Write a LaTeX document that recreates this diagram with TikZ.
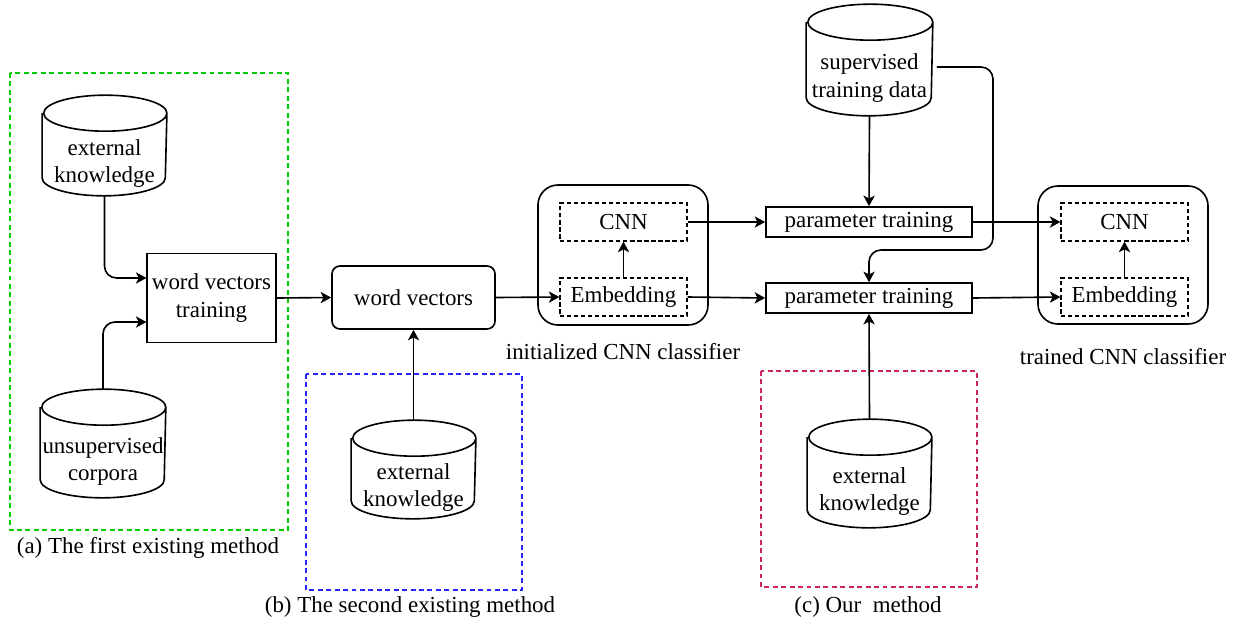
\documentclass[tikz,border=0pt]{standalone}
\usepackage{fontspec}
\setmainfont{Liberation Serif}
\usepackage{xcolor}
\definecolor{colorFirst}{HTML}{00CC00}
\definecolor{colorSecond}{HTML}{2626FF}
\definecolor{colorOurs}{HTML}{CC2266}
\usepackage{tikz}
\usetikzlibrary{arrows.meta, positioning}
\tikzset{
  store/.style={rectangle, align=center, inner sep=0pt, minimum width=2*#1,
    append after command={([yshift=0.45cm]\tikzlastnode.north west) -- ([yshift=0.45cm]\tikzlastnode.south west)
      arc[start angle=180, end angle=360, x radius=#1, y radius=0.45cm] -- ([yshift=0.45cm]\tikzlastnode.north east)
      arc[start angle=0, end angle=360, x radius=#1, y radius=0.45cm]}},
  box/.style={rectangle, draw, align=center},
  layer/.style={rectangle, draw, dash pattern=on 3pt off 2pt, line width=0.85pt, minimum width=3.175cm, minimum height=0.95cm},
  method/.style={dash pattern=on 3.5pt off 2.5pt, line width=1pt}
}

\begin{document}
\begin{tikzpicture}[x=0.025cm, y=-0.025cm, >={Stealth[length=7.5pt, width=8pt, inset=2pt]}, line width=1.15pt,
  every node/.style={font=\fontsize{16.3}{19.5}\selectfont}]
\useasboundingbox (0,0) rectangle (1240,626);
\draw (104.5,163.5) node[store=1.54cm, minimum height=1.575cm] (ek1) {external\\knowledge};
\draw (103,461.5) node[store=1.55cm, minimum height=1.775cm] (uc) {unsupervised\\corpora};
\node[box, minimum width=3.125cm, minimum height=2.225cm] (wvt) at (211.5,298) {word vectors\\training};
\node[box, rounded corners=0.2cm, minimum width=4.075cm, minimum height=1.575cm] (wv) at (413.5,297.5) {word vectors};
\draw (413.5,487.5) node[store=1.54cm, minimum height=1.525cm] (ek2) {external\\knowledge};
\node[box, rounded corners=0.5cm, minimum width=4.25cm, minimum height=3.5cm] (cls1) at (623,255) {};
\node[layer] (cnn1) at (623.5,222) {CNN};
\node[layer] (emb1) at (623.5,297) {Embedding};
\node[box, minimum width=5.15cm, minimum height=0.75cm] (pt1) at (869,222) {parameter training};
\node[box, minimum width=5.15cm, minimum height=0.75cm] (pt2) at (869,298) {parameter training};
\draw (869.5,78) node[store=1.5625cm, minimum height=1.85cm] (std) {supervised\\training data};
\node[box, rounded corners=0.5cm, minimum width=4.25cm, minimum height=3.45cm] (cls2) at (1123,255) {};
\node[layer] (cnn2) at (1124.5,222) {CNN};
\node[layer] (emb2) at (1124.5,297) {Embedding};
\draw (869.5,491.5) node[store=1.54cm, minimum height=1.775cm] (ek3) {external\\knowledge};
\node (capi) at (623,352) {initialized CNN classifier};
\node (capt) at (1123,357) {trained CNN classifier};
\node (capa) at (148,548) {(a) The first existing method};
\node (capb) at (410,607) {(b) The second existing method};
\node (capc) at (868,607) {(c) Our\ \ method};
\coordinate (bend) at (993,250);

\draw[method, colorFirst] (10,73) rectangle (288,530);
\draw[method, colorSecond] (306,374) rectangle (522,590);
\draw[method, colorOurs] (761,371) rectangle (977,587);

\draw[->, rounded corners=0.3cm] (ek1.south) |- ([yshift=0.5cm]wvt.west);
\draw[->, rounded corners=0.3cm] ([yshift=0.9cm]uc.north) |- ([yshift=-0.6cm]wvt.west);
\draw[->] (wvt.east) -- (wv.west);
\draw[->] ([yshift=0.9cm]ek2.north) -- (wv.south);
\draw[->] (wv.east) -- (emb1.west);
\draw[->] (emb1.north) -- (cnn1.south);
\draw[->] (cnn1.east) -- (pt1.west);
\draw[->] (emb1.east) -- (pt2.west);
\draw[->] (std.south) -- (pt1.north);
\draw[->, rounded corners=0.3cm] ([xshift=0.1cm, yshift=0.275cm]std.east) -| (bend) -| (pt2.north);
\draw[->] ([yshift=0.9cm]ek3.north) -- (pt2.south);
\draw[->] (pt1.east) -- (cnn2.west);
\draw[->] (pt2.east) -- (emb2.west);
\draw[->] (emb2.north) -- (cnn2.south);
\end{tikzpicture}
\end{document}
